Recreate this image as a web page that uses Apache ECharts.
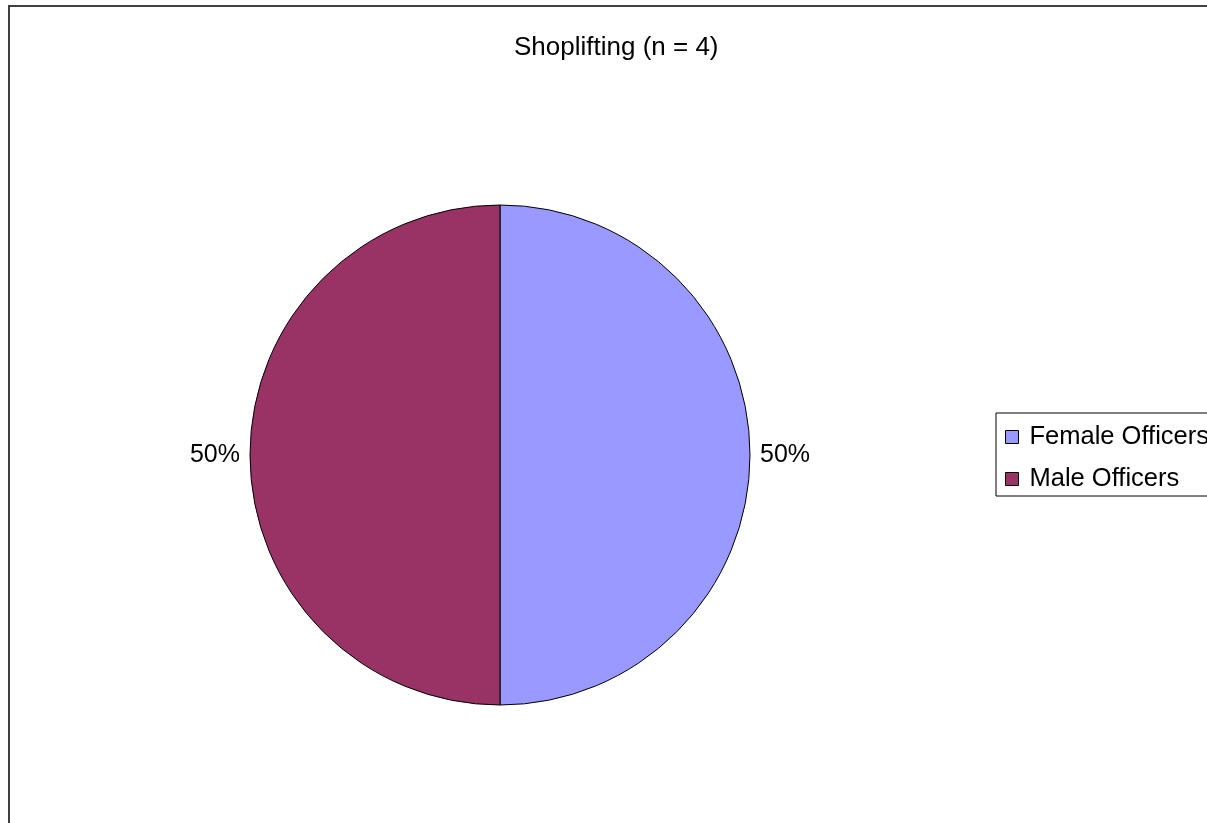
<!DOCTYPE html>
<html>
<head>
<meta charset="utf-8">
<script src="https://cdn.jsdelivr.net/npm/echarts@6/dist/echarts.min.js"></script>
<style>
html,body{margin:0;padding:0;background:#fff;}
#c{width:1207px;height:823px;}
</style>
</head>
<body>
<div id="c"></div>
<script>
const titleText = 'Shoplifting (n = 4)';
const categories = ['Female Officers', 'Male Officers'];
const values = [2, 2];
const colors = ['#9999FF', '#993366'];

const chart = echarts.init(document.getElementById('c'), null, {renderer: 'canvas'});
const font = 'Liberation Sans, Arial, sans-serif';
chart.setOption({
  animation: false,
  backgroundColor: '#fff',
  title: {
    text: titleText,
    left: 514,
    top: 35,
    padding: 0,
    textStyle: {fontFamily: font, fontSize: 26, fontWeight: 'normal', color: '#000'}
  },
  legend: {
    orient: 'vertical',
    left: 996,
    top: 413,
    padding: [9, 14, 2, 9],
    borderColor: '#000',
    borderWidth: 1,
    itemWidth: 13,
    itemHeight: 13,
    itemGap: 12,
    icon: 'rect',
    itemStyle: {borderColor: '#000', borderWidth: 1},
    textStyle: {fontFamily: font, fontSize: 25.5, color: '#000', lineHeight: 30, padding: [0,0,0,6]},
    data: categories
  },
  graphic: [{
    type: 'rect',
    shape: {x: 9, y: 6, width: 1300, height: 900},
    style: {fill: 'none', stroke: '#404040', lineWidth: 2},
    silent: true
  }],
  series: [{
    type: 'pie',
    center: [500, 455],
    radius: 250,
    startAngle: 90,
    clockwise: true,
    avoidLabelOverlap: false,
    data: categories.map((c, i) => ({name: c, value: values[i], itemStyle: {color: colors[i]}})),
    itemStyle: {borderColor: '#000', borderWidth: 1},
    label: {
      show: true,
      position: 'outside',
      formatter: p => Math.round(p.percent) + '%',
      fontFamily: font,
      fontSize: 25,
      color: '#000',
      padding: [6, 0, 0, 0],
      distanceToLabelLine: 0
    },
    labelLine: {show: false, length: 10, length2: 0},
    emphasis: {disabled: true}
  }]
});
</script>
</body>
</html>
